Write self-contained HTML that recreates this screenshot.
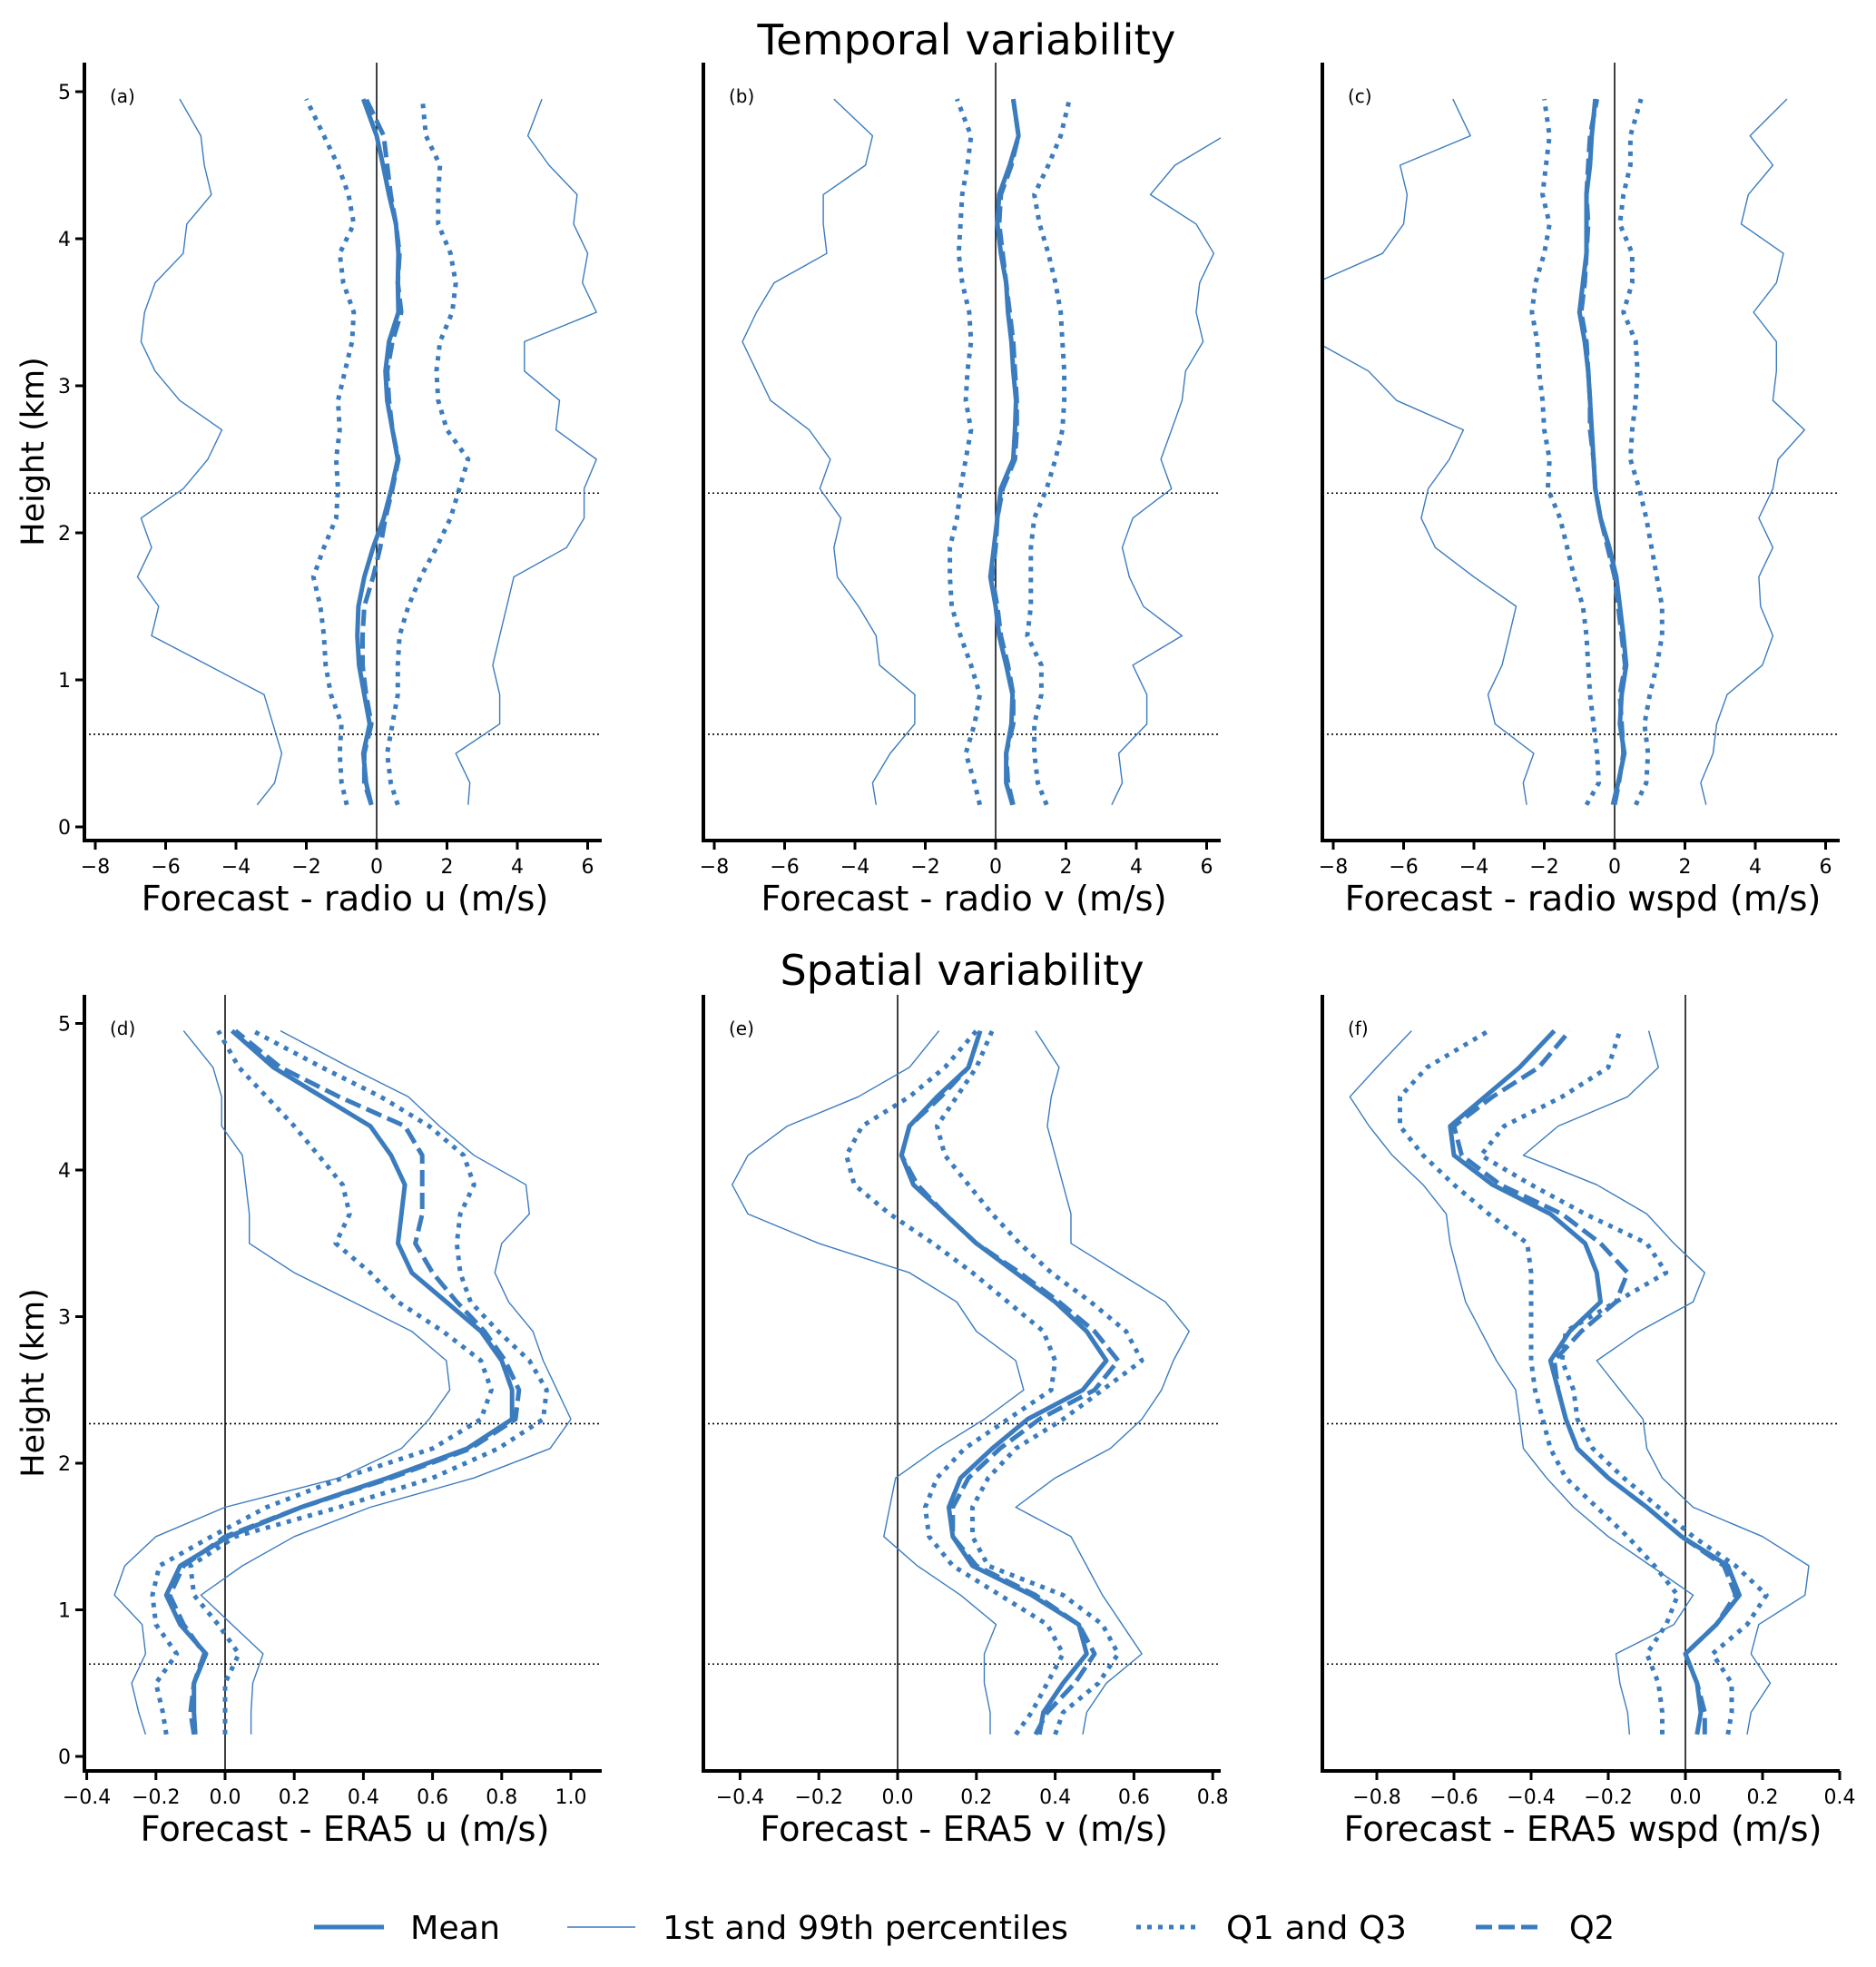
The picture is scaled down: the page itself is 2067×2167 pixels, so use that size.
<!DOCTYPE html>
<html><head><meta charset="utf-8"><style>
html,body{margin:0;padding:0;background:#fff}
svg{display:block}
text{font-family:"DejaVu Sans","Liberation Sans",sans-serif;fill:#000}
</style></head><body>
<svg id="chart" xmlns="http://www.w3.org/2000/svg" width="2067" height="2167" viewBox="0 0 2067 2167">
<text x="1065" y="60" font-size="46" text-anchor="middle" textLength="461" lengthAdjust="spacingAndGlyphs">Temporal variability</text>
<text x="1060" y="1085" font-size="46" text-anchor="middle">Spatial variability</text>
<g id="panels"></g>
<g font-size="36">
 <g><line x1="346" y1="2123" x2="423" y2="2123" stroke="#3b7cbf" stroke-width="5"/><text x="452" y="2136" textLength="99" lengthAdjust="spacingAndGlyphs">Mean</text></g>
 <g><line x1="625" y1="2123" x2="700" y2="2123" stroke="#3b7cbf" stroke-width="1.4"/><text x="730" y="2136" textLength="447" lengthAdjust="spacingAndGlyphs">1st and 99th percentiles</text></g>
 <g><line x1="1252" y1="2123" x2="1317" y2="2123" stroke="#3b7cbf" stroke-width="5" stroke-dasharray="5,7"/><text x="1351" y="2136" textLength="199" lengthAdjust="spacingAndGlyphs">Q1 and Q3</text></g>
 <g><line x1="1626" y1="2123" x2="1696" y2="2123" stroke="#3b7cbf" stroke-width="5" stroke-dasharray="18,7"/><text x="1729" y="2136" textLength="50" lengthAdjust="spacingAndGlyphs">Q2</text></g>
</g>
</svg>
<script>
const heights=[0.15,0.3,0.5,0.7,0.9,1.1,1.3,1.5,1.7,1.9,2.1,2.3,2.5,2.7,2.9,3.1,3.3,3.5,3.7,3.9,4.1,4.3,4.5,4.7,4.95];
const yTicks=[0,1,2,3,4,5];
const radioTicks=[-8,-6,-4,-2,0,2,4,6];
const eraUTicks=[-0.4,-0.2,0,0.2,0.4,0.6,0.8,1.0];
const eraVTicks=[-0.4,-0.2,0,0.2,0.4,0.6,0.8];
const eraWTicks=[-0.8,-0.6,-0.4,-0.2,0,0.2,0.4];
const hLines=[2.27,0.63];
// (a) radio u
const aP1=[-3.4,-2.9,-2.7,-2.95,-3.2,-4.8,-6.4,-6.2,-6.8,-6.4,-6.7,-5.5,-4.8,-4.4,-5.6,-6.3,-6.7,-6.6,-6.3,-5.5,-5.4,-4.7,-4.9,-5.0,-5.6];
const aP99=[2.6,2.65,2.25,3.5,3.5,3.3,3.5,3.7,3.9,5.4,5.9,5.9,6.25,5.1,5.2,4.2,4.2,6.25,5.85,6.0,5.6,5.7,4.9,4.3,4.7];
const aQ1=[-0.85,-1.0,-1.05,-1.0,-1.3,-1.45,-1.5,-1.6,-1.8,-1.5,-1.15,-1.1,-1.15,-1.05,-1.1,-0.9,-0.7,-0.65,-0.95,-1.05,-0.65,-0.8,-1.1,-1.5,-2.0];
const aQ3=[0.6,0.4,0.3,0.45,0.6,0.6,0.65,0.9,1.25,1.7,2.1,2.35,2.6,2.0,1.75,1.7,1.8,2.15,2.25,2.1,1.75,1.75,1.8,1.4,1.3];
const aMean=[-0.15,-0.3,-0.38,-0.2,-0.35,-0.5,-0.55,-0.52,-0.35,-0.1,0.2,0.42,0.6,0.45,0.3,0.25,0.35,0.62,0.6,0.62,0.55,0.35,0.18,0.0,-0.38];
const aQ2=[-0.15,-0.35,-0.35,-0.15,-0.3,-0.4,-0.4,-0.35,-0.1,0.1,0.25,0.45,0.62,0.45,0.35,0.3,0.45,0.7,0.6,0.65,0.55,0.4,0.3,0.2,-0.3];
// (b) radio v
const bP1=[-3.4,-3.5,-3.0,-2.3,-2.3,-3.3,-3.4,-3.9,-4.5,-4.6,-4.4,-5.0,-4.7,-5.3,-6.4,-6.8,-7.2,-6.8,-6.3,-4.8,-4.9,-4.9,-3.7,-3.5,-4.6];
const bP99=[3.3,3.6,3.5,4.3,4.3,3.9,5.3,4.2,3.8,3.6,3.9,5.0,4.7,5.0,5.3,5.4,5.9,5.7,5.8,6.2,5.7,4.4,5.1,6.5,7.0];
const bQ1=[-0.45,-0.6,-0.85,-0.6,-0.45,-0.7,-1.0,-1.25,-1.3,-1.3,-1.1,-1.0,-0.85,-0.7,-0.85,-0.8,-0.7,-0.75,-0.95,-1.05,-1.0,-0.95,-0.8,-0.7,-1.1];
const bQ3=[1.45,1.2,1.1,1.1,1.3,1.3,0.9,1.0,1.0,1.0,1.1,1.45,1.7,1.9,1.95,1.95,1.9,1.85,1.7,1.5,1.25,1.1,1.5,1.85,2.1];
const bMean=[0.48,0.3,0.3,0.45,0.48,0.3,0.1,0.0,-0.15,-0.05,0.05,0.15,0.5,0.55,0.58,0.5,0.45,0.35,0.3,0.15,0.05,0.1,0.4,0.65,0.5];
const bQ2=[0.5,0.35,0.3,0.5,0.5,0.35,0.15,0.05,-0.1,0.0,0.05,0.2,0.55,0.6,0.6,0.55,0.5,0.4,0.3,0.2,0.1,0.15,0.45,0.65,0.5];
// (c) radio wspd
const cP1=[-2.5,-2.6,-2.3,-3.4,-3.6,-3.2,-3.0,-2.8,-4.0,-5.1,-5.5,-5.3,-4.7,-4.3,-6.2,-7.0,-8.5,-8.8,-8.5,-6.6,-6.0,-5.9,-6.1,-4.1,-4.6];
const cP99=[2.6,2.45,2.8,2.9,3.2,4.2,4.5,4.15,4.1,4.5,4.1,4.5,4.65,5.4,4.5,4.6,4.6,3.95,4.6,4.8,3.6,3.8,4.5,3.85,4.9];
const cQ1=[-0.8,-0.45,-0.5,-0.6,-0.7,-0.75,-0.8,-0.9,-1.15,-1.35,-1.55,-1.9,-1.85,-2.0,-2.05,-2.15,-2.2,-2.35,-2.25,-2.0,-1.85,-2.05,-1.95,-1.85,-2.0];
const cQ3=[0.6,0.9,0.95,0.85,1.0,1.2,1.35,1.35,1.2,1.05,0.9,0.7,0.45,0.5,0.6,0.65,0.6,0.25,0.5,0.5,0.15,0.25,0.45,0.45,0.75];
const cMean=[-0.05,0.1,0.28,0.15,0.2,0.33,0.25,0.15,0.05,-0.15,-0.4,-0.55,-0.6,-0.65,-0.7,-0.75,-0.85,-1.0,-0.9,-0.8,-0.8,-0.8,-0.7,-0.65,-0.55];
const cQ2=[0.0,0.12,0.25,0.2,0.15,0.3,0.2,0.1,0.0,-0.2,-0.4,-0.55,-0.6,-0.7,-0.7,-0.75,-0.8,-0.95,-0.85,-0.8,-0.75,-0.8,-0.75,-0.7,-0.5];
// (d) ERA5 u
const dP1=[-0.23,-0.25,-0.27,-0.23,-0.24,-0.32,-0.29,-0.2,0.0,0.33,0.51,0.59,0.65,0.64,0.54,0.37,0.2,0.07,0.07,0.06,0.05,-0.01,-0.01,-0.035,-0.12];
const dP99=[0.075,0.075,0.08,0.11,0.02,-0.07,0.05,0.2,0.42,0.72,0.94,1.0,0.96,0.92,0.89,0.82,0.78,0.8,0.88,0.87,0.72,0.62,0.53,0.36,0.16];
const dQ1=[-0.17,-0.18,-0.2,-0.14,-0.2,-0.21,-0.19,-0.04,0.12,0.34,0.6,0.74,0.77,0.74,0.63,0.5,0.42,0.32,0.36,0.34,0.27,0.2,0.12,0.04,-0.02];
const dQ3=[0.0,0.0,0.0,0.04,-0.02,-0.09,-0.1,0.03,0.33,0.6,0.79,0.92,0.93,0.88,0.79,0.71,0.68,0.67,0.68,0.72,0.69,0.59,0.45,0.28,0.08];
const dMean=[-0.086,-0.09,-0.09,-0.055,-0.13,-0.17,-0.13,0.01,0.22,0.47,0.7,0.83,0.83,0.8,0.74,0.64,0.54,0.5,0.51,0.52,0.48,0.42,0.28,0.14,0.02];
const dQ2=[-0.09,-0.1,-0.09,-0.06,-0.12,-0.16,-0.12,0.0,0.22,0.48,0.71,0.84,0.85,0.81,0.75,0.67,0.6,0.55,0.57,0.57,0.57,0.52,0.33,0.16,0.03];
// (e) ERA5 v
const eP1=[0.235,0.235,0.22,0.22,0.25,0.16,0.05,-0.035,-0.02,-0.005,0.1,0.22,0.32,0.3,0.2,0.15,0.03,-0.2,-0.38,-0.42,-0.38,-0.28,-0.1,0.03,0.105];
const eP99=[0.47,0.48,0.53,0.62,0.57,0.52,0.48,0.44,0.3,0.4,0.54,0.62,0.67,0.7,0.74,0.68,0.56,0.44,0.44,0.42,0.4,0.38,0.39,0.41,0.35];
const eQ1=[0.3,0.34,0.38,0.42,0.38,0.26,0.14,0.08,0.07,0.1,0.17,0.28,0.39,0.4,0.37,0.28,0.19,0.09,-0.02,-0.11,-0.13,-0.09,0.03,0.12,0.2];
const eQ3=[0.4,0.42,0.51,0.56,0.52,0.42,0.23,0.19,0.19,0.23,0.3,0.42,0.52,0.62,0.58,0.49,0.39,0.31,0.24,0.18,0.12,0.1,0.15,0.2,0.24];
const eMean=[0.36,0.37,0.42,0.48,0.46,0.34,0.19,0.14,0.13,0.16,0.24,0.33,0.47,0.53,0.48,0.4,0.3,0.2,0.12,0.04,0.01,0.03,0.1,0.18,0.21];
const eQ2=[0.35,0.38,0.45,0.5,0.46,0.35,0.2,0.14,0.14,0.18,0.26,0.36,0.5,0.56,0.5,0.41,0.31,0.2,0.12,0.05,0.01,0.03,0.11,0.18,0.21];
// (f) ERA5 wspd
const fP1=[-0.145,-0.15,-0.17,-0.18,-0.03,0.02,-0.09,-0.2,-0.29,-0.36,-0.42,-0.43,-0.44,-0.49,-0.53,-0.57,-0.59,-0.61,-0.62,-0.68,-0.76,-0.82,-0.87,-0.8,-0.71];
const fP99=[0.16,0.17,0.22,0.17,0.19,0.31,0.32,0.2,0.02,-0.06,-0.1,-0.11,-0.17,-0.23,-0.12,0.02,0.05,-0.03,-0.1,-0.23,-0.42,-0.33,-0.15,-0.07,-0.095];
const fQ1=[-0.06,-0.06,-0.07,-0.1,-0.05,-0.02,-0.08,-0.15,-0.23,-0.31,-0.35,-0.37,-0.39,-0.4,-0.4,-0.4,-0.4,-0.41,-0.51,-0.6,-0.68,-0.74,-0.74,-0.67,-0.51];
const fQ3=[0.11,0.12,0.12,0.07,0.16,0.21,0.13,0.02,-0.07,-0.16,-0.24,-0.28,-0.29,-0.32,-0.31,-0.18,-0.05,-0.1,-0.26,-0.4,-0.53,-0.47,-0.32,-0.2,-0.17];
const fMean=[0.03,0.04,0.03,0.0,0.08,0.14,0.11,-0.01,-0.1,-0.2,-0.28,-0.31,-0.33,-0.35,-0.3,-0.22,-0.23,-0.26,-0.35,-0.5,-0.6,-0.61,-0.52,-0.43,-0.34];
const fQ2=[0.05,0.05,0.03,0.0,0.08,0.13,0.1,-0.01,-0.1,-0.2,-0.28,-0.31,-0.33,-0.34,-0.27,-0.18,-0.15,-0.22,-0.32,-0.48,-0.58,-0.6,-0.5,-0.38,-0.3];

const NS="http://www.w3.org/2000/svg";
const COLOR="#3b7cbf";
const rows=[{y0:911,km:162,top:69,bottom:926},{y0:1935,km:161.5,top:1096,bottom:1951}];
const panels=[
 {id:'a',row:0,L:93,zero:415,unit:38.75,ticks:radioTicks,dec:0,xlabel:'Forecast - radio u (m/s)',yAxis:true,s:[aP1,aP99,aQ1,aQ3,aQ2,aMean]},
 {id:'b',row:0,L:775,zero:1097,unit:38.75,ticks:radioTicks,dec:0,xlabel:'Forecast - radio v (m/s)',yAxis:false,s:[bP1,bP99,bQ1,bQ3,bQ2,bMean]},
 {id:'c',row:0,L:1457,zero:1779,unit:38.75,ticks:radioTicks,dec:0,xlabel:'Forecast - radio wspd (m/s)',yAxis:false,s:[cP1,cP99,cQ1,cQ3,cQ2,cMean]},
 {id:'d',row:1,L:93,zero:248,unit:381,ticks:eraUTicks,dec:1,xlabel:'Forecast - ERA5 u (m/s)',yAxis:true,s:[dP1,dP99,dQ1,dQ3,dQ2,dMean]},
 {id:'e',row:1,L:775,zero:989,unit:434,ticks:eraVTicks,dec:1,xlabel:'Forecast - ERA5 v (m/s)',yAxis:false,s:[eP1,eP99,eQ1,eQ3,eQ2,eMean]},
 {id:'f',row:1,L:1457,zero:1857,unit:425,ticks:eraWTicks,dec:1,xlabel:'Forecast - ERA5 wspd (m/s)',yAxis:false,s:[fP1,fP99,fQ1,fQ3,fQ2,fMean]}
];
const seriesNames=['p1-line','p99-line','q1-line','q3-line','q2-line','mean-line'];
const seriesStyle=[{w:1.4,d:''},{w:1.4,d:''},{w:5,d:'5,7'},{w:5,d:'5,7'},{w:5,d:'18,7'},{w:5,d:''}];
function mk(tag,attrs,parent){const e=document.createElementNS(NS,tag);for(const k in attrs)e.setAttribute(k,attrs[k]);parent.appendChild(e);return e;}
function fmt(v,dec){const s=Math.abs(v).toFixed(dec);return (v<-1e-9?'\u2212':'')+s;}
const root=document.getElementById('panels');
panels.forEach(p=>{
 const r=rows[p.row];
 const R=p.L+570;
 const xs=v=>p.zero+v*p.unit;
 const ys=h=>r.y0-h*r.km;
 const g=mk('g',{},root);
 
 
 const defs=mk('defs',{},g);
 const cp=mk('clipPath',{id:'clip-'+p.id},defs);
 mk('rect',{x:p.L,y:r.top,width:570,height:r.bottom-r.top},cp);
 const zl=mk('line',{x1:xs(0),x2:xs(0),y1:r.top,y2:r.bottom,stroke:'#000','stroke-width':1.5},g);
 
 
 hLines.forEach(h=>{
  const l=mk('line',{x1:p.L,x2:R,y1:ys(h),y2:ys(h),stroke:'#000','stroke-width':1.6,'stroke-dasharray':'2,3'},g);
  
  
 });
 const sg=mk('g',{'clip-path':'url(#clip-'+p.id+')'},g);
 p.s.forEach((vals,i)=>{
  const d=vals.map((v,k)=>(k?'L':'M')+xs(v).toFixed(1)+','+ys(heights[k]).toFixed(1)).join(' ');
  const st=seriesStyle[i];
  const a={d:d,fill:'none',stroke:COLOR,'stroke-width':st.w,'stroke-linejoin':'round'};
  if(st.d)a['stroke-dasharray']=st.d;
  const path=mk('path',a,sg);
  
  
 });
 const ls=mk('line',{x1:p.L,x2:p.L,y1:r.top,y2:r.bottom+2,stroke:'#000','stroke-width':4},g);
 
 
 const bs=mk('line',{x1:p.L-2,x2:R,y1:r.bottom,y2:r.bottom,stroke:'#000','stroke-width':4},g);
 
 
 p.ticks.forEach(t=>{
  const x=xs(t);
  mk('line',{x1:x,x2:x,y1:r.bottom,y2:r.bottom+10,stroke:'#000','stroke-width':3},g);
  const tl=mk('text',{x:x,y:r.bottom+36,'font-size':22,'text-anchor':'middle'},g);
  tl.textContent=fmt(t,p.dec);
  
  
 });
 if(p.yAxis){
  yTicks.forEach(t=>{
   const y=ys(t);
   mk('line',{x1:p.L-10,x2:p.L,y1:y,y2:y,stroke:'#000','stroke-width':3},g);
   const tl=mk('text',{x:p.L-15,y:y+8,'font-size':22,'text-anchor':'end'},g);
   tl.textContent=String(t);
   
   
  });
  const yt=mk('text',{x:0,y:0,'font-size':35,'text-anchor':'middle',transform:'translate(48,'+((r.top+r.bottom)/2)+') rotate(-90)'},g);
  yt.textContent='Height (km)';
  
  
 }
 const xt=mk('text',{x:p.L+287,y:r.bottom+77,'font-size':38.5,'text-anchor':'middle'},g);
 xt.textContent=p.xlabel;
 
 
 const pl=mk('text',{x:p.L+28,y:r.top+44,'font-size':20},g);
 pl.textContent='('+p.id+')';
 
 
});
</script>
</body></html>
